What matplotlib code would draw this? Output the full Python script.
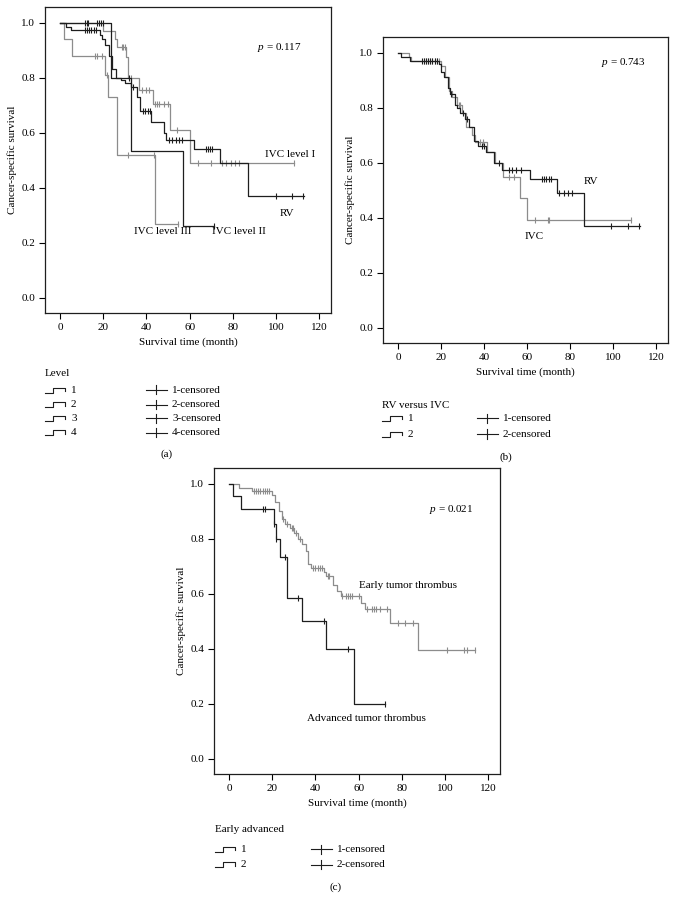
import numpy as np
import matplotlib
matplotlib.use("Agg")
import matplotlib.pyplot as plt
from matplotlib.lines import Line2D

plt.rcParams['font.family'] = ['Liberation Serif', 'DejaVu Serif']
plt.rcParams['font.size'] = 8
plt.rcParams['mathtext.fontset'] = 'custom'
plt.rcParams['mathtext.it'] = 'Liberation Serif:italic'
plt.rcParams['mathtext.rm'] = 'Liberation Serif'

W, H = 676, 898
BLACK = "#1e1e1e"
GRAY = "#8c8c8c"
FS = 8

# ---- panel (a): level ----
a_rv_t = [2.5, 5, 18.5, 19.5, 21, 22.5, 24, 26, 28, 30, 33, 35.5, 37, 42.3, 48, 49, 62, 74, 87]
a_rv_s = [0.985, 0.975, 0.955, 0.94, 0.92, 0.88, 0.83, 0.80, 0.79, 0.78, 0.765, 0.73, 0.68, 0.64, 0.60, 0.575, 0.54, 0.49, 0.37]
a_rv_end = 113
a_rv_cens = [11.5, 12.5, 13.5, 14.5, 15.5, 16.5, 34, 38.5, 39.5, 40.5, 41.5, 50.5, 52, 53.5, 55, 56.5,
             67.5, 68.5, 69.5, 70.5, 100, 107.5, 112.6]

a_ivc1_t = [20, 25.5, 26.5, 30.5, 31.5, 36.6, 43, 51, 60]
a_ivc1_s = [0.97, 0.94, 0.91, 0.875, 0.80, 0.754, 0.705, 0.61, 0.49]
a_ivc1_end = 108.5
a_ivc1_cens = [28.5, 29.2, 30, 33, 38, 40, 41, 44, 45, 46, 48, 50, 54, 64, 70, 75, 77, 79, 81, 83, 108.5]

a_ivc2_t = [23.5, 33, 57]
a_ivc2_s = [0.80, 0.535, 0.26]
a_ivc2_end = 71.5
a_ivc2_cens = [11.5, 12.3, 13, 17, 18, 19, 20, 32, 71.5]

a_ivc3_t = [2, 5.4, 21, 22, 26.3, 43.8]
a_ivc3_s = [0.94, 0.88, 0.81, 0.73, 0.517, 0.267]
a_ivc3_end = 54.6
a_ivc3_cens = [16, 17, 19.5, 21.5, 31.4, 43.5, 54.6]

# ---- panel (b): RV versus IVC ----
b_rv_t = [1.5, 5.5, 19, 20, 21.5, 23, 24, 26.5, 27.5, 29, 31, 33, 35.5, 37, 41, 44.5, 48.5, 61.5, 73.7, 86.4]
b_rv_s = [0.985, 0.97, 0.96, 0.93, 0.91, 0.87, 0.85, 0.81, 0.80, 0.78, 0.76, 0.73, 0.68, 0.66, 0.64, 0.60, 0.573, 0.54, 0.49, 0.37]
b_rv_end = 112.4
b_rv_cens = [11, 12, 13, 14, 15, 16, 17, 18, 24.5, 30, 32, 39, 40, 47, 51.5, 53, 55, 57,
             67, 68, 69, 70, 71, 75, 77, 79, 81, 98.8, 107, 112.2]

b_ivc_t = [5, 6, 20, 22, 23.5, 25, 27.5, 29.5, 31.5, 34.5, 36, 41.5, 45, 49, 56.9, 59.9]
b_ivc_s = [0.985, 0.97, 0.95, 0.91, 0.86, 0.84, 0.81, 0.78, 0.73, 0.70, 0.675, 0.64, 0.60, 0.549, 0.47, 0.392]
b_ivc_end = 108.4
b_ivc_cens = [12, 13, 14, 15, 16, 17, 18, 19, 28.5, 29, 38, 39.5, 51.5, 54, 63.7, 69.8, 70.3, 108.2]

# ---- panel (c): early vs advanced ----
c_early_t = [4.8, 10.6, 20, 21.2, 23, 24.5, 26, 28, 30, 32, 34, 35.5, 36.6, 38, 44, 45, 48, 50, 51.9,
             61.2, 62.8, 74.5, 87.7]
c_early_s = [0.985, 0.975, 0.96, 0.935, 0.90, 0.87, 0.855, 0.84, 0.82, 0.80, 0.78, 0.755, 0.708, 0.695,
             0.68, 0.665, 0.63, 0.61, 0.591, 0.565, 0.543, 0.494, 0.394]
c_early_end = 114
c_early_cens = [11.5, 12.5, 13.5, 14.5, 15.5, 16.5, 17.5, 18.5, 25, 27, 29, 29.5, 31, 33, 39, 40, 41, 42, 43,
                46, 46.5, 52.5, 54, 55, 56, 57, 60, 64, 66, 67, 68, 70, 73, 78.4, 81.5, 85.4, 101, 109, 110, 114]

c_adv_t = [1.7, 5.5, 21, 21.8, 23.8, 26.6, 34, 44.9, 58]
c_adv_s = [0.955, 0.909, 0.855, 0.80, 0.733, 0.585, 0.50, 0.40, 0.20]
c_adv_end = 72
c_adv_cens = [15.5, 16.5, 21, 21.9, 25.9, 32, 44, 55, 72]


def km(ax, t, s, end, cens, color):
    xs = np.concatenate([[0], t, [end]])
    ys = np.concatenate([[1.0], s, [s[-1]]])
    ax.step(xs, ys, where='post', color=color, lw=0.9)
    levels = np.concatenate([[1.0], s])
    cy = levels[np.searchsorted(t, cens, side='right')]
    ax.plot(cens, cy, ls='none', marker='|', ms=5, mew=0.8, color=color)


def setup(ax):
    ax.set_xlim(-7, 125.5)
    ax.set_ylim(-0.056, 1.057)
    ax.set_xticks(np.arange(0, 121, 20))
    ax.set_yticks(np.arange(0, 1.01, 0.2))
    ax.set_yticklabels([f"{v:.1f}" for v in np.arange(0, 1.01, 0.2)])
    ax.tick_params(direction='out', length=4, width=0.8, labelsize=FS, pad=3,
                   top=False, right=False)
    for sp in ax.spines.values():
        sp.set_linewidth(0.9)
        sp.set_color(BLACK)
    ax.set_xlabel("Survival time (month)", fontsize=FS, labelpad=4)
    ax.set_ylabel("Cancer-specific survival", fontsize=FS, labelpad=3)


def box(l, t, r, b):
    return [l / W, 1 - b / H, (r - l) / W, (b - t) / H]


fig = plt.figure(figsize=(W / 100, H / 100), dpi=100)

ax_a = fig.add_axes(box(45, 7, 331, 313))
setup(ax_a)
km(ax_a, a_ivc3_t, a_ivc3_s, a_ivc3_end, a_ivc3_cens, GRAY)
km(ax_a, a_ivc1_t, a_ivc1_s, a_ivc1_end, a_ivc1_cens, GRAY)
km(ax_a, a_ivc2_t, a_ivc2_s, a_ivc2_end, a_ivc2_cens, BLACK)
km(ax_a, a_rv_t, a_rv_s, a_rv_end, a_rv_cens, BLACK)
ax_a.text(101.5, 0.911, r"$p$ = 0.117", ha='center', va='center')
ax_a.text(106.6, 0.513, "IVC level I", ha='center', va='baseline')
ax_a.text(105, 0.298, "RV", ha='center', va='baseline')
ax_a.text(47.3, 0.233, "IVC level III", ha='center', va='baseline')
ax_a.text(82.6, 0.233, "IVC level II", ha='center', va='baseline')

ax_b = fig.add_axes(box(383, 37, 668, 343))
setup(ax_b)
km(ax_b, b_ivc_t, b_ivc_s, b_ivc_end, b_ivc_cens, GRAY)
km(ax_b, b_rv_t, b_rv_s, b_rv_end, b_rv_cens, BLACK)
ax_b.text(104.7, 0.964, r"$p$ = 0.743", ha='center', va='center')
ax_b.text(89.7, 0.524, "RV", ha='center', va='baseline')
ax_b.text(63.2, 0.324, "IVC", ha='center', va='baseline')

ax_c = fig.add_axes(box(214, 468, 500, 774))
setup(ax_c)
km(ax_c, c_early_t, c_early_s, c_early_end, c_early_cens, GRAY)
km(ax_c, c_adv_t, c_adv_s, c_adv_end, c_adv_cens, BLACK)
ax_c.text(102.8, 0.906, r"$p$ = 0.021", ha='center', va='center')
ax_c.text(82.7, 0.62, "Early tumor thrombus", ha='center', va='baseline')
ax_c.text(63.6, 0.136, "Advanced tumor thrombus", ha='center', va='baseline')


def ftext(x, y, s, **kw):
    fig.text(x / W, 1 - y / H, s, va='center', fontsize=FS, **kw)


def fline(xs, ys):
    fig.add_artist(Line2D([x / W for x in xs], [1 - y / H for y in ys],
                          color=BLACK, lw=0.8, transform=fig.transFigure))


def legend(x0, y_title, rows, title, cx0):
    ftext(x0, y_title, title)
    for i, y in enumerate(rows):
        fline([x0, x0 + 8, x0 + 8, x0 + 20, x0 + 20], [y + 2.5, y + 2.5, y - 2.5, y - 2.5, y + 1])
        ftext(x0 + 26, y, str(i + 1))
        fline([cx0, cx0 + 21], [y, y])
        fline([cx0 + 10, cx0 + 10], [y - 4.5, y + 4.5])
        ftext(cx0 + 26, y, f"{i + 1}-censored")


legend(45, 373, [390, 404.5, 418.5, 432.5], "Level", 146)
ftext(167, 454, "(a)", ha='center')
legend(382, 405, [418.5, 434], "RV versus IVC", 477)
ftext(506, 457, "(b)", ha='center')
legend(215, 830, [849, 864.5], "Early advanced", 311)
ftext(336, 887, "(c)", ha='center')

fig.savefig("out.png", dpi=100)
